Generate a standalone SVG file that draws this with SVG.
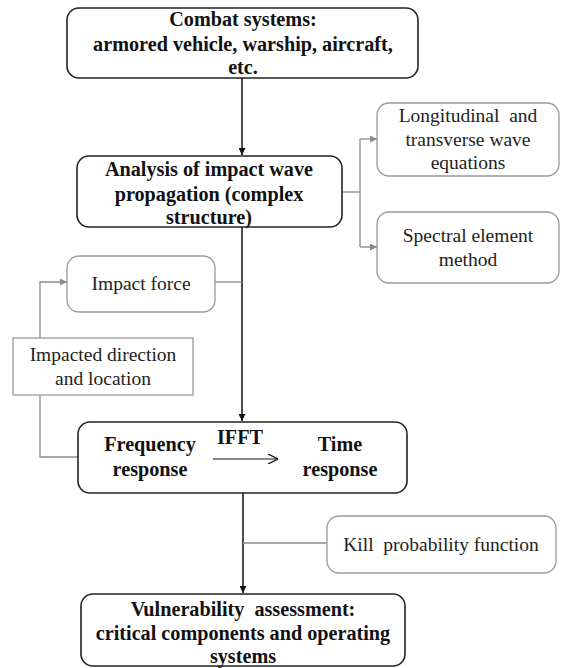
<svg xmlns="http://www.w3.org/2000/svg" width="561" height="668" viewBox="0 0 561 668">
  <defs>
    <marker id="arrBlack" viewBox="0 0 10 10" refX="10" refY="5" markerWidth="7" markerHeight="7" markerUnits="userSpaceOnUse" orient="auto">
      <path d="M0,0 L10,5 L0,10 z" fill="#111"/>
    </marker>
    <marker id="arrGray" viewBox="0 0 10 10" refX="10" refY="5" markerWidth="7" markerHeight="7" markerUnits="userSpaceOnUse" orient="auto">
      <path d="M0,0 L10,5 L0,10 z" fill="#8a8a8a"/>
    </marker>
    <marker id="openHead" viewBox="0 0 10 10" refX="10" refY="5" markerWidth="10" markerHeight="10" markerUnits="userSpaceOnUse" orient="auto">
      <path d="M0,0 L10,5 L0,10" fill="none" stroke="#111" stroke-width="1.2"/>
    </marker>
  </defs>
  <style>
    .main { fill: #fff; stroke: #222; stroke-width: 1.6; }
    .side { fill: #fff; stroke: #9a9a9a; stroke-width: 1.3; }
    .bold { font-family: 'Liberation Serif', serif; font-weight: bold; font-size: 20.2px; fill: #111; text-anchor: middle; }
    .reg { font-family: 'Liberation Serif', serif; font-size: 19.5px; fill: #222; text-anchor: middle; }
    .pre { white-space: pre; }
    .blk { fill: none; stroke: #111; stroke-width: 1.5; }
    .gry { fill: none; stroke: #8a8a8a; stroke-width: 1.3; }
  </style>
  <rect width="561" height="668" fill="#fff"/>

  <g id="connectors">
    <path class="blk" d="M242,78 V155" marker-end="url(#arrBlack)"/>
    <path class="blk" d="M242,227 V421" marker-end="url(#arrBlack)"/>
    <path class="blk" d="M243,493 V593" marker-end="url(#arrBlack)"/>
    <path class="gry" d="M342,192 H360"/>
    <path class="gry" d="M360,139 V247"/>
    <path class="gry" d="M360,139 H377" marker-end="url(#arrGray)"/>
    <path class="gry" d="M360,247 H377" marker-end="url(#arrGray)"/>
    <path class="gry" d="M215,282 H242"/>
    <path class="gry" d="M40,338 V282 H67" marker-end="url(#arrGray)"/>
    <path class="gry" d="M40,395 V457 H78"/>
    <path class="gry" d="M243,543 H327"/>
  </g>

  <g id="combat-systems">
    <rect class="main" x="67" y="8" width="351" height="70" rx="12"/>
    <text class="bold" x="243" y="26">Combat systems:</text>
    <text class="bold" x="243" y="51">armored vehicle, warship, aircraft,</text>
    <text class="bold" x="243" y="74">etc.</text>
  </g>

  <g id="wave-analysis">
    <rect class="main" x="77" y="156" width="265" height="71" rx="12"/>
    <text class="bold" x="209" y="176">Analysis of impact wave</text>
    <text class="bold" x="209" y="201">propagation (complex</text>
    <text class="bold" x="209" y="224">structure)</text>
  </g>

  <g id="wave-equations">
    <rect class="side" x="377" y="103" width="182" height="73" rx="12"/>
    <text class="reg pre" x="468" y="122">Longitudinal  and</text>
    <text class="reg" x="468" y="146">transverse wave</text>
    <text class="reg" x="468" y="169">equations</text>
  </g>

  <g id="spectral-element">
    <rect class="side" x="377" y="212" width="182" height="71" rx="12"/>
    <text class="reg" x="468" y="242">Spectral element</text>
    <text class="reg" x="468" y="266">method</text>
  </g>

  <g id="impact-force">
    <rect class="side" x="67" y="256" width="148" height="56" rx="12"/>
    <text class="reg" x="141" y="290">Impact force</text>
  </g>

  <g id="impact-direction">
    <rect class="side" x="13" y="338" width="180" height="57"/>
    <text class="reg" x="103" y="361">Impacted direction</text>
    <text class="reg" x="103" y="385">and location</text>
  </g>

  <g id="response">
    <rect class="main" x="78" y="422" width="329" height="71" rx="12"/>
    <text class="bold" x="150" y="451">Frequency</text>
    <text class="bold" x="150" y="476">response</text>
    <text class="bold" x="240" y="444">IFFT</text>
    <path d="M213,459 H278" fill="none" stroke="#111" stroke-width="1.2" marker-end="url(#openHead)"/>
    <text class="bold" x="340" y="451">Time</text>
    <text class="bold" x="340" y="476">response</text>
  </g>

  <g id="kill-probability">
    <rect class="side" x="327" y="516" width="229" height="57" rx="12"/>
    <text class="reg pre" x="441" y="551">Kill  probability function</text>
  </g>

  <g id="vulnerability">
    <rect class="main" x="81" y="594" width="324" height="72" rx="12"/>
    <text class="bold pre" x="243" y="616">Vulnerability  assessment:</text>
    <text class="bold" x="243" y="640">critical components and operating</text>
    <text class="bold" x="243" y="663">systems</text>
  </g>
</svg>
